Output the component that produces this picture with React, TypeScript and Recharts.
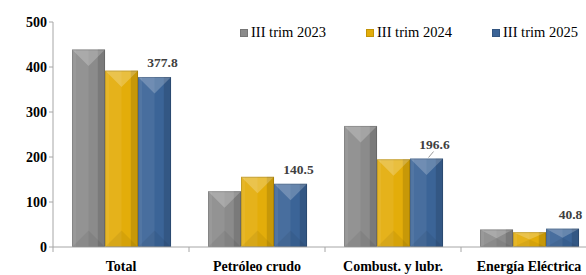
import { BarChart, Bar, XAxis, YAxis, Legend, LabelList } from 'recharts';

const categories = ['Total', 'Petróleo crudo', 'Combust. y lubr.', 'Energía Eléctrica'];
const trim2023 = [439, 124, 269, 39];
const trim2024 = [392, 156, 195, 33];
const trim2025 = [377.8, 140.5, 196.6, 40.8];
const yTicks = [0, 100, 200, 300, 400, 500];

const series = [
  { key: 'y2023', name: 'III trim 2023', color: '#8b8b8b' },
  { key: 'y2024', name: 'III trim 2024', color: '#e3ad0a' },
  { key: 'y2025', name: 'III trim 2025', color: '#3b6497' },
];

const data = categories.map((name, i) => ({
  name,
  y2023: trim2023[i],
  y2024: trim2024[i],
  y2025: trim2025[i],
}));

const FONT = 'Liberation Serif, DejaVu Serif, Times New Roman, serif';

function BevelBar(props: any) {
  const { x, y, width: w, height: h, fill } = props;
  if (!w || !h || h <= 0) return null;
  const tri = Math.min(w / 2, h / 2);
  return (
    <g>
      <rect x={x} y={y} width={w} height={h} fill={fill} />
      <rect x={x} y={y} width={w * 0.5} height={h} fill="#fff" fillOpacity={0.07} />
      <rect x={x + w * 0.78} y={y} width={w * 0.22} height={h} fill="#000" fillOpacity={0.12} />
      <rect x={x} y={y} width={w * 0.12} height={h} fill="#fff" fillOpacity={0.06} />
      <polygon
        points={`${x},${y} ${x + w},${y} ${x + w / 2},${y + tri}`}
        fill="#fff"
        fillOpacity={0.22}
      />
      <polygon
        points={`${x},${y + h} ${x + w},${y + h} ${x + w / 2},${y + h - tri}`}
        fill="#000"
        fillOpacity={0.06}
      />
      <rect x={x + 0.5} y={y + 0.5} width={w - 1} height={h - 1} fill="none" stroke="#000" strokeOpacity={0.15} />
    </g>
  );
}

function ValueLabel(props: any) {
  const { x, y, width, value, index } = props;
  const cx = x + width / 2 + 8;
  const ty = y - 10;
  return (
    <g>
      {index === 2 && (
        <line x1={x + width / 2 + 2} y1={y - 1} x2={x + width / 2 + 7} y2={y - 7} stroke="#808080" strokeWidth={0.8} />
      )}
      <text x={cx} y={ty} textAnchor="middle" style={{ fontFamily: FONT }} fontSize={13.5} fontWeight="bold" fill="#404040">
        {value.toFixed(1)}
      </text>
    </g>
  );
}

function CatTick(props: any) {
  const { x, y, payload } = props;
  const half = 68;
  return (
    <g>
      <line x1={x - half} y1={y - 8} x2={x - half} y2={y - 3} stroke="#a6a6a6" />
      <text x={x} y={y + 16} textAnchor="middle" style={{ fontFamily: FONT }} fontSize={14} fontWeight="bold" fill="#000">
        {payload.value}
      </text>
    </g>
  );
}

function LegendContent() {
  return (
    <div style={{ display: 'flex', fontFamily: FONT, fontSize: 14.5, color: '#000' }}>
      {series.map((s) => (
        <div key={s.key} style={{ width: 126, display: 'flex', alignItems: 'center' }}>
          <span
            style={{
              display: 'inline-block',
              width: 8,
              height: 8,
              marginRight: 3,
              background: s.color,
              boxShadow: 'inset 0 0 0 1px rgba(0,0,0,0.15)',
            }}
          />
          <span>{s.name}</span>
        </div>
      ))}
    </div>
  );
}

export default function App() {
  return (
    <div style={{ position: 'absolute', left: 0, top: 0, width: 586, height: 275, overflow: 'hidden', background: '#fff', fontFamily: FONT }}>
      <BarChart
        width={600}
        height={275}
        data={data}
        margin={{ top: 22, right: 3, bottom: 0, left: 0 }}
        barCategoryGap="14%"
        barGap={0}
        style={{ fontFamily: FONT }}
      >
        <XAxis
          dataKey="name"
          axisLine={{ stroke: '#a6a6a6' }}
          tickLine={false}
          tick={<CatTick />}
          height={28}
          interval={0}
        />
        <YAxis
          domain={[0, 500]}
          ticks={yTicks}
          width={53}
          axisLine={{ stroke: '#a6a6a6' }}
          tickLine={{ stroke: '#a6a6a6' }}
          tickSize={4}
          tick={{ style: { fontFamily: FONT }, fontSize: 14, fontWeight: 'bold', fill: '#000' }}
        />
        <Legend
          verticalAlign="middle"
          align="center"
          content={<LegendContent />}
          wrapperStyle={{ top: 24, left: 240, width: 380 }}
        />
        {series.map((s) => (
          <Bar
            key={s.key}
            dataKey={s.key}
            name={s.name}
            fill={s.color}
            shape={<BevelBar />}
            isAnimationActive={false}
          >
            {s.key === 'y2025' && <LabelList dataKey={s.key} content={<ValueLabel />} />}
          </Bar>
        ))}
      </BarChart>
    </div>
  );
}
